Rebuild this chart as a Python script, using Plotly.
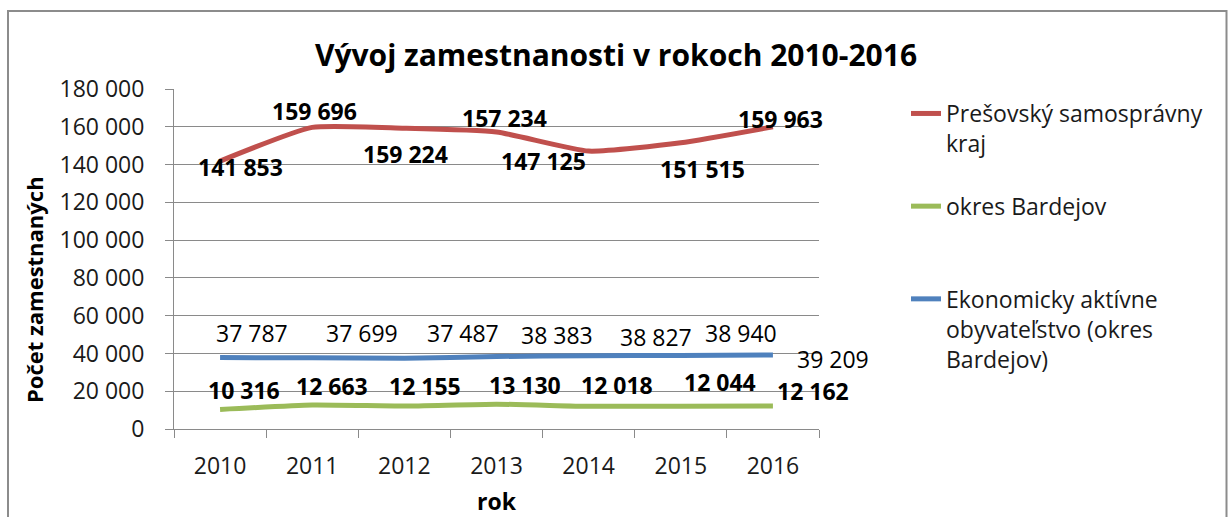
import plotly.graph_objects as go

years = ["2010", "2011", "2012", "2013", "2014", "2015", "2016"]
presov = [141853, 159696, 159224, 157234, 147125, 151515, 159963]
bardejov = [10316, 12663, 12155, 13130, 12018, 12044, 12162]
ekon = [37787, 37699, 37487, 38383, 38827, 38940, 39209]

names = ["Prešovský samosprávny<br>kraj<br>\u00a0",
         "okres Bardejov<br>\u00a0<br>\u00a0",
         "Ekonomicky aktívne<br>obyvateľstvo (okres<br>Bardejov)"]
colors = ["#C0504D", "#9BBB59", "#4F81BD"]

# label offsets in screen pixels (dx right, dy down)
off_presov = [(20, 6), (2, -16), (1, 26), (8, -14), (-45, 10), (22, 26), (8, -8)]
off_bardejov = [(24, -20), (20, -19), (21, -20), (28, -19), (28, -21), (39, -24), (40, -15)]
off_ekon = [(32, -25), (50, -25), (59, -25), (60, -22), (67, -19), (60, -22), (60, 4)]

FONT = "Open Sans, Noto Sans, sans-serif"
GRID = "#8a8a8a"

fig = go.Figure()
for series, name, col in zip([presov, bardejov, ekon], names, colors):
    fig.add_trace(go.Scatter(x=years, y=series, name=name, mode="lines",
                             line=dict(color=col, width=5, shape="spline", smoothing=0.5)))

def fmt(v):
    return f"{v:,}".replace(",", " ")

annotations = []
for series, offs, bold in [(presov, off_presov, True), (bardejov, off_bardejov, True), (ekon, off_ekon, False)]:
    for i, (v, (dx, dy)) in enumerate(zip(series, offs)):
        t = fmt(v)
        annotations.append(dict(x=i, y=v, xref="x", yref="y", text=f"<b>{t}</b>" if bold else t,
                                showarrow=False, xshift=dx, yshift=-dy,
                                font=dict(family=FONT, size=23, color="#000000")))

annotations.append(dict(text="<b>Počet zamestnaných</b>", textangle=-90, showarrow=False,
                        xref="paper", yref="paper", x=(34 - 174) / 645, y=(429 - 290) / 340,
                        xanchor="center", yanchor="middle",
                        font=dict(family=FONT, size=22, color="#000000")))

fig.update_layout(
    width=1228, height=517,
    margin=dict(l=174, r=409, t=89, b=88, pad=0, autoexpand=False),
    paper_bgcolor="white", plot_bgcolor="white",
    separators=", ",
    font=dict(family=FONT, color="#1a1a1a"),
    title=dict(text="<b>Vývoj zamestnanosti v rokoch 2010-2016</b>", x=616 / 1228, xanchor="center",
               y=1 - 55 / 517, yanchor="middle", xref="container", yref="container",
               font=dict(family=FONT, size=30, color="#000000")),
    xaxis=dict(type="category", range=[-0.5, 6.5], tickson="boundaries", ticks="outside", ticklen=8,
               tickcolor=GRID, showline=True, linecolor=GRID, linewidth=1, showgrid=False,
               automargin=False,
               tickfont=dict(family=FONT, size=23, color="#1a1a1a"), ticklabelstandoff=16,
               title=dict(text="<b>rok</b>", font=dict(family=FONT, size=23, color="#000000"), standoff=16)),
    yaxis=dict(range=[0, 180000], dtick=20000, tickformat=",d", ticks="outside", ticklen=8,
               tickcolor=GRID, showline=True, linecolor=GRID, linewidth=1, showgrid=True,
               gridcolor=GRID, gridwidth=1, zeroline=False, automargin=False,
               tickfont=dict(family=FONT, size=23, color="#1a1a1a"), ticklabelstandoff=16),
    legend=dict(x=(906 - 174) / 645, xanchor="left", y=(429 - 92) / 340, yanchor="top",
                valign="top", bgcolor="rgba(0,0,0,0)", font=dict(family=FONT, size=23, color="#1a1a1a"),
                tracegroupgap=0),
    annotations=annotations,
    shapes=[dict(type="rect", xref="paper", yref="paper",
                 x0=(8 - 174) / 645, x1=(1226.5 - 174) / 645,
                 y0=(429 - 540) / 340, y1=(429 - 11) / 340,
                 line=dict(color="#8c8c8c", width=2), fillcolor="rgba(0,0,0,0)", layer="below")],
)

fig.write_html("out.html")
